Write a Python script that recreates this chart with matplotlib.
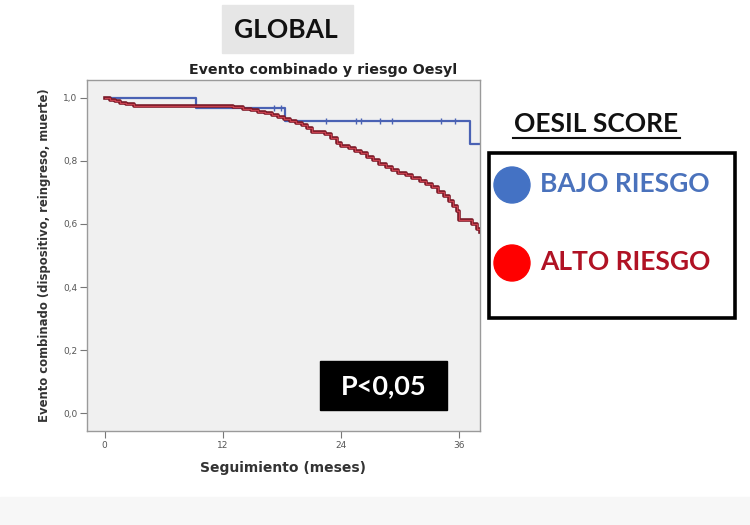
import matplotlib
matplotlib.use("Agg")
import matplotlib.pyplot as plt
from matplotlib.patches import Rectangle, Ellipse
from matplotlib.lines import Line2D

# Kaplan-Meier style step data (months, surviving fraction)
bajo_t = [0, 9.3, 18.3, 37.1, 38.1]
bajo_s = [1.0, 0.969, 0.928, 0.855, 0.855]
bajo_cens_t = [17.2, 17.9, 22.5, 25.5, 26.0, 27.9, 29.2, 34.1, 35.6]
bajo_cens_s = [0.969, 0.969, 0.928, 0.928, 0.928, 0.928, 0.928, 0.928, 0.928]

alto_t = [0, 0.5, 1.0, 1.6, 2.2, 3.0, 13.0, 14.0, 14.8, 15.6, 16.3, 17.0, 17.6,
          18.2, 18.8, 19.4, 20.0, 20.5, 21.0, 22.4, 23.0, 23.6, 24.0, 24.8, 25.4,
          26.0, 26.6, 27.2, 27.8, 28.6, 29.2, 29.8, 30.6, 31.2, 32.0, 32.6, 33.2,
          33.8, 34.4, 35.0, 35.4, 35.8, 36.0, 37.3, 37.8, 38.1]
alto_s = [1.0, 0.995, 0.990, 0.985, 0.981, 0.976, 0.972, 0.966, 0.961, 0.957, 0.952,
          0.946, 0.940, 0.934, 0.928, 0.921, 0.914, 0.906, 0.893, 0.885, 0.872, 0.858,
          0.847, 0.840, 0.832, 0.824, 0.813, 0.802, 0.790, 0.782, 0.772, 0.763, 0.754,
          0.745, 0.736, 0.727, 0.716, 0.703, 0.690, 0.672, 0.658, 0.640, 0.612, 0.600,
          0.585, 0.576]

xticks = [0, 12, 24, 36]
yticks = [0.0, 0.2, 0.4, 0.6, 0.8, 1.0]
ytick_labels = ["0,0", "0,2", "0,4", "0,6", "0,8", "1,0"]

W, H = 750, 525
fig = plt.figure(figsize=(W / 100, H / 100), dpi=100)


def fx(px):
    return px / W


def fy(py):
    return 1 - py / H


# faint strip at the very bottom of the screenshot
fig.add_artist(Rectangle((0, 0), 1, fy(497), transform=fig.transFigure,
                         color="#f7f7f7", zorder=0))

ax = fig.add_axes([fx(87), fy(431), fx(480) - fx(87), fy(80) - fy(431)])
ax.set_facecolor("#f0f0f0")
for sp in ax.spines.values():
    sp.set_color("#9a9a9a")
    sp.set_linewidth(1.0)

ax.step(alto_t, alto_s, where="post", color="#7a1a28", lw=2.6, zorder=3)
ax.step(alto_t, alto_s, where="post", color="#c8404e", lw=0.9, zorder=4)
ax.step(bajo_t, bajo_s, where="post", color="#4a62b4", lw=1.6, zorder=2)
ax.plot(bajo_cens_t, bajo_cens_s, ls="none", marker="|", ms=5, mew=1.0,
        color="#4a62b4", zorder=2)

ax.set_xlim(-1.8, 38.1)
ax.set_ylim(-0.057, 1.057)
ax.set_xticks(xticks)
ax.set_xticklabels([str(t) for t in xticks])
ax.set_yticks(yticks)
ax.set_yticklabels(ytick_labels)
ax.tick_params(axis="both", direction="out", length=5, width=0.8, color="#777777",
               labelsize=6.5, labelcolor="#555555", pad=2)

ax.set_xlabel("Seguimiento (meses)", fontsize=10, fontweight="bold",
              color="#333333", labelpad=8)
ax.set_ylabel("Evento combinado (dispositivo, reingreso, muerte)", fontsize=8.4,
              fontweight="bold", color="#333333", labelpad=9)

fig.text(fx(323), fy(70), "Evento combinado y riesgo Oesyl", ha="center",
         va="center", fontsize=10.3, fontweight="bold", color="#222222")

# GLOBAL label box
fig.add_artist(Rectangle((fx(222), fy(53)), fx(353) - fx(222), fy(5) - fy(53),
                         transform=fig.transFigure, color="#e6e6e6", zorder=1))
fig.text(fx(286), fy(30), "GLOBAL", ha="center", va="center", fontsize=19,
         fontweight="bold", family="Lato", color="#111111", zorder=2)

# P value box
fig.add_artist(Rectangle((fx(320), fy(410)), fx(447) - fx(320), fy(361) - fy(410),
                         transform=fig.transFigure, color="black", zorder=5))
fig.text(fx(384), fy(386), "P<0,05", ha="center", va="center", fontsize=19.5,
         fontweight="bold", family="Lato", color="white", zorder=6)

# OESIL SCORE legend
fig.text(fx(596), fy(124), "OESIL SCORE", ha="center", va="center", fontsize=19,
         fontweight="bold", family="Lato", color="#111111")
fig.add_artist(Line2D([fx(513), fx(680)], [fy(138), fy(138)],
                      transform=fig.transFigure, color="#111111", lw=1.5))
fig.add_artist(Rectangle((fx(489), fy(318)), fx(735) - fx(489), fy(153) - fy(318),
                         transform=fig.transFigure, fill=False, edgecolor="black",
                         lw=2.6, zorder=5))
fig.add_artist(Ellipse((fx(512), fy(185)), fx(36), 36 / H, transform=fig.transFigure,
                       color="#4472c4", zorder=6))
fig.add_artist(Ellipse((fx(512), fy(263)), fx(36), 36 / H, transform=fig.transFigure,
                       color="#ff0000", zorder=6))
fig.text(fx(540), fy(184), "BAJO RIESGO", ha="left", va="center", fontsize=19,
         fontweight="bold", family="Lato", color="#4a72bc")
fig.text(fx(540), fy(262), "ALTO RIESGO", ha="left", va="center", fontsize=19,
         fontweight="bold", family="Lato", color="#b01224")

fig.savefig("out.png", dpi=100)
